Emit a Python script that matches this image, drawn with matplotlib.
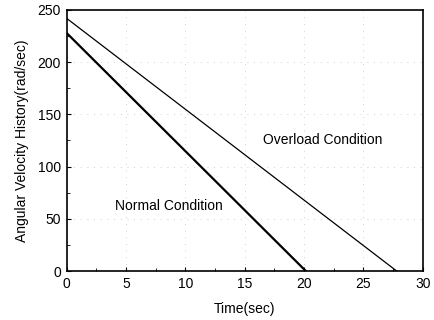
import numpy as np
import matplotlib
matplotlib.use('Agg')
import matplotlib.pyplot as plt
from matplotlib.ticker import MultipleLocator

# values (start and end points of each line)
normal_t = [0.0, 20.15]
normal_w = [228.0, 0.0]
overload_t = [0.0, 27.8]
overload_w = [242.0, 0.0]

plt.rcParams['font.family'] = ['Liberation Sans', 'DejaVu Sans']
plt.rcParams['font.size'] = 10

fig = plt.figure(figsize=(4.35, 3.2), dpi=100)
ax = fig.add_axes([0.153, 0.153, 0.819, 0.816])

ax.plot(normal_t, normal_w, color='black', linewidth=1.6)
ax.plot(overload_t, overload_w, color='black', linewidth=0.9)

ax.text(16.5, 125, 'Overload Condition', va='center', ha='left')
ax.text(4.1, 62, 'Normal Condition', va='center', ha='left')

ax.set_xlim(0, 30)
ax.set_ylim(0, 250)
ax.xaxis.set_major_locator(MultipleLocator(5))
ax.xaxis.set_minor_locator(MultipleLocator(2.5))
ax.yaxis.set_major_locator(MultipleLocator(50))
ax.yaxis.set_minor_locator(MultipleLocator(25))
ax.tick_params(which='both', direction='in')
ax.tick_params(which='major', length=3, pad=4)
ax.tick_params(which='minor', length=2)
ax.grid(True, which='major', color='#c0c0c0', linestyle=(0, (1, 7)), linewidth=0.6)

for s in ax.spines.values():
    s.set_linewidth(1.2)

ax.set_xlabel('Time(sec)', labelpad=8)
ax.set_ylabel('Angular Velocity History(rad/sec)', labelpad=6)

fig.savefig('out.png', dpi=100)
